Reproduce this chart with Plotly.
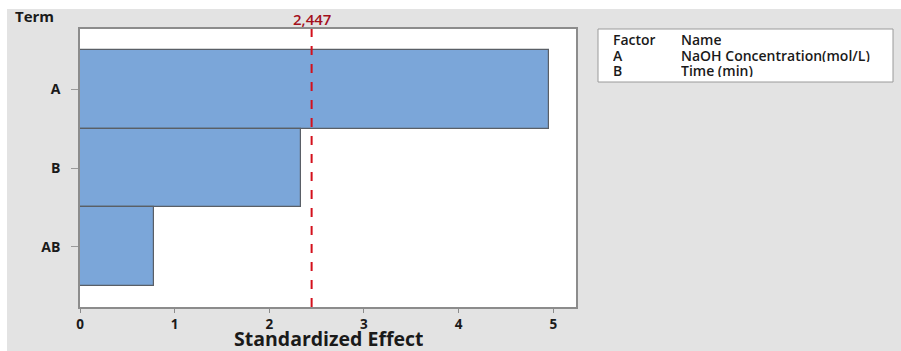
import plotly.graph_objects as go

# Pareto chart of standardized effects
terms = ["A", "B", "AB"]
effects = [4.95, 2.33, 0.78]
critical_value = 2.447
critical_label = "2,447"
x_ticks = [0, 1, 2, 3, 4, 5]
x_title = "Standardized Effect"

factor_codes = ["A", "B"]
factor_names = ["NaOH Concentration(mol/L)", "Time (min)"]

W, H = 901, 351
L, R, T, B = 80, 576, 29, 307  # plot area in pixels
pw, ph = R - L, B - T


def px_x(p):
    return (p - L) / pw


def px_y(p):
    return (B - p) / ph


BG = "#e3e3e3"
TXT = "#1a1a1a"
FONT = "Open Sans, Noto Sans, DejaVu Sans, sans-serif"

fig = go.Figure()
fig.add_trace(go.Bar(
    x=effects,
    y=terms,
    orientation="h",
    marker=dict(color="#7ba6d9", line=dict(color="#5a5f66", width=1.2)),
    width=1.0,
    hoverinfo="x+y",
))

shapes = [
    # white margins at top and left
    dict(type="rect", xref="paper", yref="paper", x0=px_x(0), x1=px_x(W),
         y0=px_y(9), y1=px_y(0), fillcolor="white", line=dict(width=0), layer="below"),
    dict(type="rect", xref="paper", yref="paper", x0=px_x(0), x1=px_x(7),
         y0=px_y(H), y1=px_y(0), fillcolor="white", line=dict(width=0), layer="below"),
    # factor table box
    dict(type="rect", xref="paper", yref="paper", x0=px_x(598), x1=px_x(893),
         y0=px_y(82), y1=px_y(29), fillcolor="white",
         line=dict(color="#9a9a9a", width=1), layer="below"),
    # critical value reference line
    dict(type="line", xref="x", yref="paper", x0=critical_value, x1=critical_value,
         y0=0, y1=1, line=dict(color="#d4101c", width=2, dash="dash")),
]


def label(text, x, y, size, weight="bold", color=TXT, xanchor="left", xref="paper", h=None):
    d = dict(text=text, xref=xref, yref="paper", x=x, y=y,
             xanchor=xanchor, yanchor="middle", showarrow=False, borderpad=0,
             font=dict(family=FONT, size=size, color=color, weight=weight))
    if h is not None:
        d["height"] = h
    return d


annotations = [
    label("Term", px_x(14), px_y(16), 15),
    label(critical_label, critical_value, px_y(19), 15, weight=600,
          color="#a3101c", xanchor="center", xref="x", h=16),
    label(x_title, px_x(329), px_y(337.5), 19.5, xanchor="center", h=20),
    label("Factor", px_x(612), px_y(40), 14, weight=600, h=13),
    label("Name", px_x(680), px_y(40), 14, weight=600, h=13),
]
row_y = [55.5, 71]
for code, name, yy in zip(factor_codes, factor_names, row_y):
    annotations.append(label(code, px_x(612), px_y(yy), 14, weight=600, h=13))
    annotations.append(label(name, px_x(680), px_y(yy), 14, weight=600, h=13))

fig.update_layout(
    width=W, height=H,
    margin=dict(l=L, r=W - R, t=T, b=H - B, pad=0),
    paper_bgcolor=BG,
    plot_bgcolor="white",
    showlegend=False,
    bargap=0,
    shapes=shapes,
    annotations=annotations,
    font=dict(family=FONT, color=TXT),
)

fig.update_xaxes(
    range=[0, 5.24],
    tickvals=x_ticks,
    ticktext=[str(v) for v in x_ticks],
    showgrid=False, zeroline=False, automargin=False,
    showline=True, mirror=True, linecolor="#8c8c8c", linewidth=1.5,
    ticks="outside", ticklen=4, tickcolor="#8c8c8c",
    tickfont=dict(family=FONT, size=13.5, color=TXT, weight="bold"),
)
fig.update_yaxes(
    type="category",
    categoryorder="array", categoryarray=terms,
    range=[2.76, -0.76],
    showgrid=False, zeroline=False, automargin=False,
    showline=True, mirror=True, linecolor="#8c8c8c", linewidth=1.5,
    ticks="outside", ticklen=7, tickcolor="#9a9a9a",
    ticklabelstandoff=8,
    tickfont=dict(family=FONT, size=14, color=TXT, weight="bold"),
)

fig.write_html("out.html")
